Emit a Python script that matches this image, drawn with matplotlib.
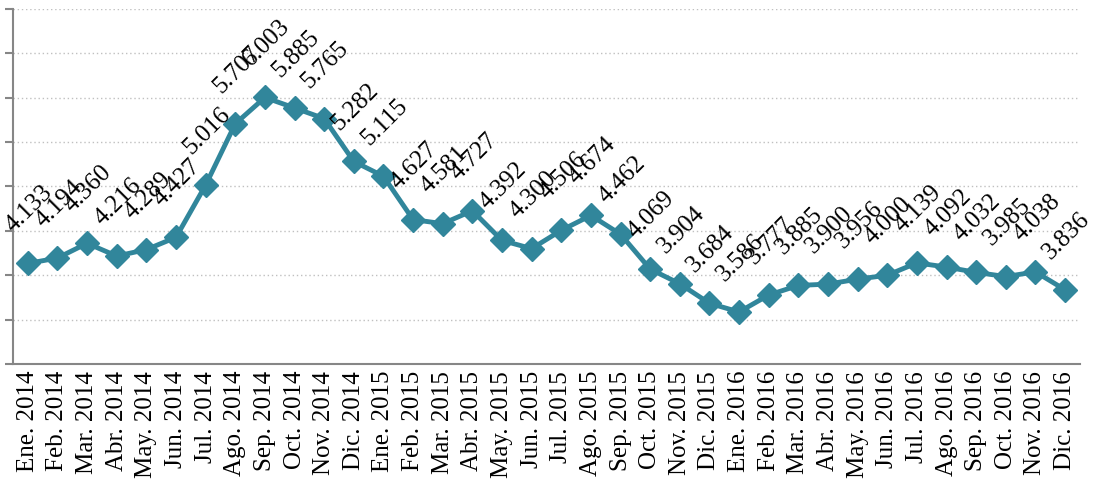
import matplotlib
matplotlib.use("Agg")
from matplotlib import pyplot as plt

months = ["Ene.", "Feb.", "Mar.", "Abr.", "May.", "Jun.",
          "Jul.", "Ago.", "Sep.", "Oct.", "Nov.", "Dic."]
years = ["2014", "2015", "2016"]
labels = [m + " " + y for y in years for m in months]

values = [4.133, 4.194, 4.360, 4.216, 4.289, 4.427,
          5.016, 5.707, 6.003, 5.885, 5.765, 5.282,
          5.115, 4.627, 4.581, 4.727, 4.392, 4.300,
          4.506, 4.674, 4.462, 4.069, 3.904, 3.684,
          3.586, 3.777, 3.885, 3.900, 3.956, 4.000,
          4.139, 4.092, 4.032, 3.985, 4.038, 3.836]

plt.rcParams['font.family'] = ['Liberation Serif', 'DejaVu Serif']

fig = plt.figure(figsize=(10.93, 4.83), dpi=100)
ax = fig.add_axes([0.0119, 0.2464, 0.988 - 0.0119, 0.9814 - 0.2464])

x = list(range(len(values)))
ax.plot(x, values, color="#31869b", linewidth=3.5, marker="D", markersize=12,
        markeredgecolor="#31869b", zorder=3, clip_on=False)

for xi, v in zip(x, values):
    ax.annotate(f"{v:.3f}", (xi, v), xytext=(1, 39), textcoords="offset points",
                ha="center", va="center", rotation=45, fontsize=18,
                annotation_clip=False)

ax.set_xlim(-0.5, len(values) - 0.5)
ax.set_ylim(3, 7)
ax.set_yticks([3, 3.5, 4, 4.5, 5, 5.5, 6, 6.5, 7])
ax.set_yticklabels([])
ax.yaxis.grid(True, linestyle=(0, (1, 2)), color="#c0c0c0", linewidth=1)
ax.set_axisbelow(True)

ax.set_xticks(x)
ax.set_xticklabels(labels, rotation=90, fontsize=18)
ax.tick_params(axis="x", length=0, pad=5)
ax.tick_params(axis="y", length=6, color="#868686", width=1.5)

for side in ["top", "right"]:
    ax.spines[side].set_visible(False)
for side in ["left", "bottom"]:
    ax.spines[side].set_color("#868686")
    ax.spines[side].set_linewidth(1.5)

fig.savefig("out.png", dpi=100)
